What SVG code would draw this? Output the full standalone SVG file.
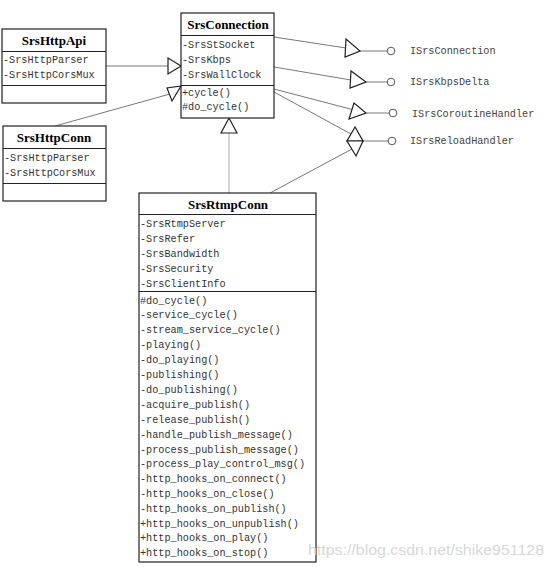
<svg xmlns="http://www.w3.org/2000/svg" width="554" height="567" viewBox="0 0 554 567">
<style>
.box{fill:#fff;stroke:#222;stroke-width:1.2}
.div{stroke:#222;stroke-width:1.2}
.t{font-family:"Liberation Mono","DejaVu Sans Mono",monospace;font-size:10.2px;fill:#333}
.h{font-family:"Liberation Serif","Times New Roman",serif;font-size:13px;font-weight:bold;fill:#000;text-anchor:middle}
.i{font-family:"Liberation Mono","DejaVu Sans Mono",monospace;font-size:10.2px;fill:#444}
.ln{stroke:#555;stroke-width:0.8;fill:none}
.tri{fill:#fff;stroke:#222;stroke-width:1.2}
.lol{fill:#fff;stroke:#444;stroke-width:0.9}
.wm{font-family:"Liberation Sans",Arial,sans-serif;font-size:15px;fill:#d4d4d4;opacity:0.9}
</style>
<g id="connectors">
<line class="ln" x1="106" y1="66" x2="168" y2="66"/>
<polygon class="tri" points="168,58 168,74 181,66"/>
<line class="ln" x1="55" y1="126" x2="170" y2="94"/>
<polygon class="tri" points="167,88 172,101 181,86"/>
<line x1="229" y1="193" x2="229" y2="133" stroke="#aaa" stroke-width="1"/>
<polygon class="tri" points="221,133 237,133 229,118"/>
<line class="ln" x1="274" y1="37" x2="346" y2="48"/>
<polygon class="tri" points="346,39 345,57 360,51"/>
<line class="ln" x1="360" y1="51" x2="387" y2="51"/>
<circle class="lol" cx="391" cy="51" r="3.8"/>
<line class="ln" x1="274" y1="67" x2="351" y2="80"/>
<polygon class="tri" points="351,71 350,88 366,82"/>
<line class="ln" x1="366" y1="82" x2="387" y2="82"/>
<circle class="lol" cx="391" cy="82" r="3.8"/>
<line class="ln" x1="274" y1="89" x2="354" y2="110"/>
<polygon class="tri" points="354,103 349,119 366,113"/>
<line class="ln" x1="366" y1="113" x2="389" y2="113"/>
<circle class="lol" cx="393" cy="113" r="3.8"/>
<line class="ln" x1="274" y1="92" x2="351" y2="134"/>
<line class="ln" x1="270" y1="193" x2="352" y2="149"/>
<polygon class="tri" points="355,127 347,141 363,141"/>
<polygon class="tri" points="356,156 347,141 363,141"/>
<line class="ln" x1="363" y1="141" x2="388" y2="141"/>
<circle class="lol" cx="392" cy="141" r="3.8"/>
</g>
<g id="ISrsConnection"><text class="i" x="410" y="54">ISrsConnection</text></g>
<g id="ISrsKbpsDelta"><text class="i" x="410" y="85">ISrsKbpsDelta</text></g>
<g id="ISrsCoroutineHandler"><text class="i" x="412" y="117">ISrsCoroutineHandler</text></g>
<g id="ISrsReloadHandler"><text class="i" x="410" y="144">ISrsReloadHandler</text></g>
<g id="SrsHttpApi">
<rect class="box" x="2" y="29" width="104" height="74"/>
<line class="div" x1="2" y1="51.5" x2="106" y2="51.5"/>
<line class="div" x1="2" y1="85.5" x2="106" y2="85.5"/>
<text class="h" x="54" y="44.5">SrsHttpApi</text>
<text class="t" x="3" y="63">-SrsHttpParser</text>
<text class="t" x="3" y="78">-SrsHttpCorsMux</text>
</g>
<g id="SrsHttpConn">
<rect class="box" x="3" y="126" width="103" height="75"/>
<line class="div" x1="3" y1="148.5" x2="106" y2="148.5"/>
<line class="div" x1="3" y1="183.5" x2="106" y2="183.5"/>
<text class="h" x="54" y="141.5">SrsHttpConn</text>
<text class="t" x="4" y="161">-SrsHttpParser</text>
<text class="t" x="4" y="176">-SrsHttpCorsMux</text>
</g>
<g id="SrsConnection">
<rect class="box" x="181" y="13" width="93" height="105"/>
<line class="div" x1="181" y1="35.5" x2="274" y2="35.5"/>
<line class="div" x1="181" y1="85.5" x2="274" y2="85.5"/>
<text class="h" x="228" y="28.5">SrsConnection</text>
<text class="t" x="182" y="48">-SrsStSocket</text>
<text class="t" x="182" y="63">-SrsKbps</text>
<text class="t" x="182" y="78">-SrsWallClock</text>
<text class="t" x="182" y="96">+cycle()</text>
<text class="t" x="182" y="110">#do_cycle()</text>
</g>
<g id="SrsRtmpConn">
<rect class="box" x="139" y="193" width="177" height="369"/>
<line class="div" x1="139" y1="214.5" x2="316" y2="214.5"/>
<line class="div" x1="139" y1="291.5" x2="316" y2="291.5"/>
<text class="h" x="228" y="208.5">SrsRtmpConn</text>
<text class="t" x="140" y="227">-SrsRtmpServer</text>
<text class="t" x="140" y="242">-SrsRefer</text>
<text class="t" x="140" y="257">-SrsBandwidth</text>
<text class="t" x="140" y="272">-SrsSecurity</text>
<text class="t" x="140" y="287">-SrsClientInfo</text>
<text class="t" x="140" y="304">#do_cycle()</text>
<text class="t" x="140" y="318">-service_cycle()</text>
<text class="t" x="140" y="333">-stream_service_cycle()</text>
<text class="t" x="140" y="348">-playing()</text>
<text class="t" x="140" y="363">-do_playing()</text>
<text class="t" x="140" y="378">-publishing()</text>
<text class="t" x="140" y="393">-do_publishing()</text>
<text class="t" x="140" y="408">-acquire_publish()</text>
<text class="t" x="140" y="423">-release_publish()</text>
<text class="t" x="140" y="438">-handle_publish_message()</text>
<text class="t" x="140" y="453">-process_publish_message()</text>
<text class="t" x="140" y="467">-process_play_control_msg()</text>
<text class="t" x="140" y="482">-http_hooks_on_connect()</text>
<text class="t" x="140" y="497">-http_hooks_on_close()</text>
<text class="t" x="140" y="512">-http_hooks_on_publish()</text>
<text class="t" x="140" y="527">+http_hooks_on_unpublish()</text>
<text class="t" x="140" y="541">+http_hooks_on_play()</text>
<text class="t" x="140" y="556">+http_hooks_on_stop()</text>
</g>
<text class="wm" x="308" y="555" textLength="236" lengthAdjust="spacingAndGlyphs">https://blog.csdn.net/shike951128</text>
</svg>
